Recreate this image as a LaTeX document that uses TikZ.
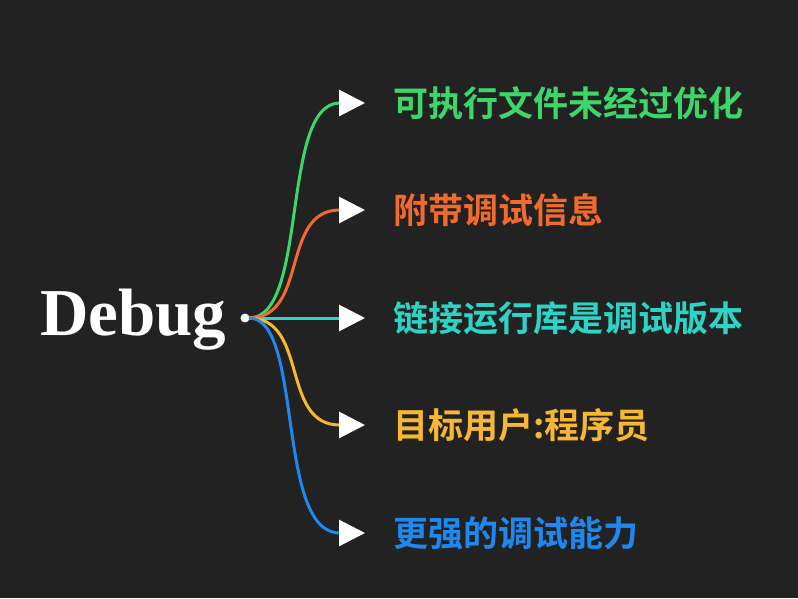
\documentclass[tikz,border=0pt]{standalone}
\usepackage{fontspec}
\setmainfont{Liberation Serif}
\newfontfamily\cjk{Noto Sans CJK SC}[BoldFont={Noto Sans CJK SC Bold}]
\usepackage{tikz}
\usetikzlibrary{arrows.meta, calc}

\definecolor{bgdark}{HTML}{222222}
\definecolor{brgreen}{HTML}{3DD66A}
\definecolor{brorange}{HTML}{F26A2C}
\definecolor{brcyan}{HTML}{2ED3C6}
\definecolor{bryellow}{HTML}{F7B733}
\definecolor{brblue}{HTML}{1F88EE}

\begin{document}
\begin{tikzpicture}[
    x=1pt, y=-1pt,
    item/.style={anchor=west, inner sep=0pt, font=\cjk\bfseries\fontsize{35}{35}\selectfont},
    branch/.style={line width=3pt, -{Triangle[length=26pt, width=26pt, color=white]}}
]

% fond
\fill[bgdark] (0,0) rectangle (798,598);
\useasboundingbox (0,0) rectangle (798,598);

% racine
\node[anchor=base west, inner sep=0pt, text=white, font=\bfseries\fontsize{67}{67}\selectfont] (root) at (40,335) {Debug};
\node[circle, fill=white, inner sep=0pt, minimum size=9pt] (dot) at (245,318) {};
\coordinate (start) at (249,318);

% branches
\node[item, text=brgreen] (b1) at (393,103) {可执行文件未经过优化};
\node[item, text=brorange] (b2) at (393,210) {附带调试信息};
\node[item, text=brcyan] (b3) at (393,318) {链接运行库是调试版本};
\node[item, text=bryellow] (b4) at (393,425) {目标用户:程序员};
\node[item, text=brblue] (b5) at (393,533) {更强的调试能力};

% Connecteurs
\draw[branch, brcyan] (start) -- ([xshift=-28pt]b3.west);
\draw[branch, brgreen] (start) .. controls +(60,0) and +(-85,0) .. ([xshift=-28pt]b1.west);
\draw[branch, brorange] (start) .. controls +(60,0) and +(-85,0) .. ([xshift=-28pt]b2.west);
\draw[branch, bryellow] (start) .. controls +(60,0) and +(-85,0) .. ([xshift=-28pt]b4.west);
\draw[branch, brblue] (start) .. controls +(55,0) and +(-90,0) .. ([xshift=-28pt]b5.west);

\end{tikzpicture}
\end{document}
